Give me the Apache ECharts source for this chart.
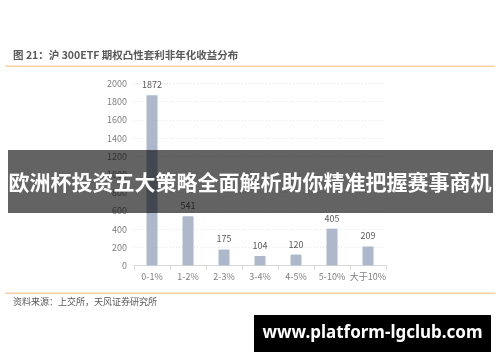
<!DOCTYPE html>
<html><head><meta charset="utf-8">
<script src="https://cdn.jsdelivr.net/npm/echarts@6/dist/echarts.min.js"></script>
<style>html,body{margin:0;padding:0;background:#fff}#c{width:500px;height:362px}</style>
</head><body><div id="c"></div>
<script>
const categories = ['0-1%', '1-2%', '2-3%', '3-4%', '4-5%', '5-10%', '大于10%'];
const counts = [1872, 541, 175, 104, 120, 405, 209];
const yTicks = [0, 200, 400, 600, 800, 1000, 1200, 1400, 1600, 1800, 2000];

const chart = echarts.init(document.getElementById('c'));
const F = '"Noto Sans CJK SC", "Noto Sans", sans-serif';
chart.setOption({
  animation: false,
  backgroundColor: '#fff',
  grid: { left: 134, right: 114, top: 83.5, bottom: 96.5, containLabel: false },
  xAxis: {
    type: 'category', data: categories,
    axisLine: { lineStyle: { color: '#d9d9d9' } },
    axisTick: { show: true, alignWithLabel: false, length: 4, lineStyle: { color: '#d9d9d9' } },
    axisLabel: { color: '#7f7f7f', fontSize: 9, fontFamily: F, margin: 7, interval: 0 }
  },
  yAxis: {
    type: 'value', min: yTicks[0], max: yTicks[yTicks.length - 1], interval: 200,
    axisLine: { show: false }, axisTick: { show: false },
    axisLabel: { color: '#7f7f7f', fontSize: 9, fontFamily: F, margin: 7, formatter: v => String(v) },
    splitLine: { lineStyle: { color: '#e6e6e6', type: [1, 2] } }
  },
  series: [{
    type: 'bar', data: counts, barWidth: 11,
    itemStyle: { color: '#adb8cb' },
    label: { show: true, position: 'top', distance: 6, color: '#595959', fontSize: 9, fontFamily: F }
  }],
  graphic: [
    { type: 'text', left: 13, top: 50, z: 50,
      style: { text: '图 21：沪 300ETF 期权凸性套利非年化收益分布', font: 'bold 10.5px ' + F, fill: '#595959' } },
    { type: 'rect', shape: { x: 5, y: 65.5, width: 490, height: 1.5 }, style: { fill: '#f9cfa5' }, z: 50 },
    { type: 'rect', shape: { x: 5, y: 292.5, width: 490, height: 1.5 }, style: { fill: '#f9cfa5' }, z: 50 },
    { type: 'text', left: 13, top: 297, z: 50,
      style: { text: '资料来源：上交所，天风证券研究所', font: '9px ' + F, fill: '#595959' } },
    { type: 'rect', shape: { x: 8, y: 150, width: 485, height: 63 }, style: { fill: 'rgba(0,0,0,0.61)' }, z: 100 },
    { type: 'text', x: 250, y: 182, z: 101,
      style: { text: '欧洲杯投资五大策略全面解析助你精准把握赛事商机', font: 'bold 21px ' + F, fill: '#fff', align: 'center', verticalAlign: 'middle' } },
    { type: 'rect', shape: { x: 254, y: 315, width: 237, height: 37 }, style: { fill: '#000' }, z: 100 },
    { type: 'text', x: 372.5, y: 333.5, z: 101,
      style: { text: 'www.platform-lgclub.com', font: 'bold 17px "Noto Sans", sans-serif', fill: '#fff', align: 'center', verticalAlign: 'middle' } }
  ]
});
</script></body></html>
